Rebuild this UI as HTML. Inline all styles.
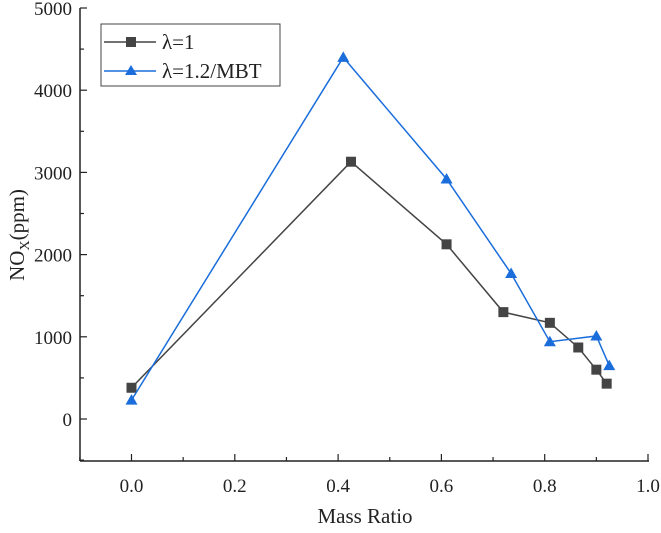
<!DOCTYPE html>
<html><head><meta charset="utf-8"><style>
body{margin:0;background:#fff}
svg text{font-family:"Liberation Serif",serif;fill:#222}
</style></head><body>
<svg width="661" height="528" viewBox="0 0 661 528">
<g id="axes"></g><g id="series"></g>
<g>
<rect x="101" y="24" width="179" height="62" fill="#fff" stroke="#444" stroke-width="1"/>
<line x1="104" y1="42" x2="156" y2="42" stroke="#444" stroke-width="1.5"/>
<rect x="126" y="37" width="10" height="10" fill="#444"/>
<text x="162" y="49" font-size="21">λ=1</text>
<line x1="104" y1="71" x2="156" y2="71" stroke="#1a6ddb" stroke-width="1.5"/>
<polygon points="131,65 137,75 125,75" fill="#1a6ddb"/>
<text x="162" y="78" font-size="21">λ=1.2/MBT</text>
</g>
<text x="365" y="523" font-size="21" text-anchor="middle">Mass Ratio</text>
<text transform="translate(24,235) rotate(-90)" font-size="21" text-anchor="middle">NO<tspan font-size="14" dy="5">X</tspan><tspan dy="-5">(ppm)</tspan></text>
</svg>
<script>
const xTicks=[0,0.2,0.4,0.6,0.8,1.0];
const xTickLabels=["0.0","0.2","0.4","0.6","0.8","1.0"];
const yTicks=[0,1000,2000,3000,4000,5000];
const yTickLabels=["0","1000","2000","3000","4000","5000"];
const blackX=[0,0.425,0.61,0.72,0.81,0.865,0.90,0.92];
const blackY=[380,3130,2125,1300,1170,870,600,430];
const blueX=[0,0.41,0.61,0.735,0.81,0.90,0.925];
const blueY=[230,4400,2920,1770,940,1010,650];
const NS="http://www.w3.org/2000/svg";
const sx=v=>131.5+(v-0)*516.5;
const sy=v=>419-v*0.0822;
const L=80,B=461;
function mk(t,a,p){const e=document.createElementNS(NS,t);for(const k in a)e.setAttribute(k,a[k]);p.appendChild(e);return e;}
const ax=document.getElementById('axes');
let ya=mk('line',{x1:L,y1:B,x2:L,y2:sy(5000),stroke:'#222','stroke-width':1.5},ax);


let xa=mk('line',{x1:L,y1:B,x2:sx(1.0)+1,y2:B,stroke:'#222','stroke-width':1.5},ax);


for(let v=-0.1;v<=1.0001;v+=0.1){const x=sx(v);const maj=Math.abs(Math.round(v*10)%2)===0;mk('line',{x1:x,y1:B,x2:x,y2:B-(maj?7:4),stroke:'#222','stroke-width':1.2},ax);}
xTicks.forEach((v,i)=>{const t=mk('text',{x:sx(v),y:B+31,'font-size':19,'text-anchor':'middle'},ax);t.textContent=xTickLabels[i];

});
for(let v=-500;v<=5000;v+=500){const y=sy(v);const maj=v%1000===0;mk('line',{x1:L,y1:y,x2:L+(maj?7:4),y2:y,stroke:'#222','stroke-width':1.2},ax);}
yTicks.forEach((v,i)=>{const t=mk('text',{x:L-8,y:sy(v)+7,'font-size':19,'text-anchor':'end'},ax);t.textContent=yTickLabels[i];

});
const sg=document.getElementById('series');
function series(X,Y,col,tri,name){
 const pl=mk('polyline',{points:X.map((x,i)=>sx(x)+','+sy(Y[i])).join(' '),fill:'none',stroke:col,'stroke-width':1.5},sg);
 
 
 X.forEach((x,i)=>{const cx=sx(x),cy=sy(Y[i]);let m;
  if(tri)m=mk('polygon',{points:`${cx},${cy-6} ${cx+6},${cy+4.5} ${cx-6},${cy+4.5}`,fill:col},sg);
  else m=mk('rect',{x:cx-5,y:cy-5,width:10,height:10,fill:col},sg);
  
  });
}
series(blackX,blackY,'#444',false,'lambda1');
series(blueX,blueY,'#1a6ddb',true,'lambda12');
</script>
</body></html>
